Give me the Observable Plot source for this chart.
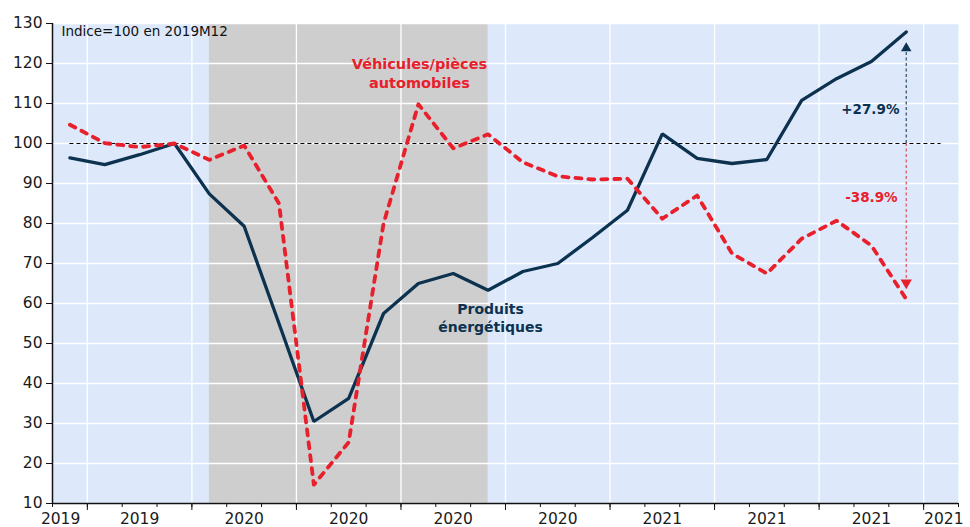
<!DOCTYPE html>
<html><head><meta charset="utf-8">
<script src="https://cdn.jsdelivr.net/npm/d3@7"></script>
<script src="https://cdn.jsdelivr.net/npm/@observablehq/plot@0.6"></script>
<style>body{margin:0;background:#fff}</style>
</head><body><div id="chart"></div>
<script>
// ---- data ----
const months = ["2019M9","2019M10","2019M11","2019M12","2020M1","2020M2","2020M3","2020M4","2020M5","2020M6","2020M7","2020M8","2020M9","2020M10","2020M11","2020M12","2021M1","2021M2","2021M3","2021M4","2021M5","2021M6","2021M7","2021M8","2021M9","2021M10"];
const energy   = [96.4, 94.7, 97.2, 100, 87.4, 79.3, 55.0, 30.5, 36.3, 57.5, 65.0, 67.5, 63.3, 68.0, 70.0, 76.5, 83.3, 102.4, 96.3, 95.0, 96.0, 110.8, 116.2, 120.5, 127.9];
const vehicles = [104.7, 100.1, 99.1, 100, 95.9, 99.5, 85.0, 14.7, 25.3, 80.0, 109.8, 98.8, 102.3, 95.3, 91.8, 91.0, 91.2, 81.2, 87.0, 72.5, 67.5, 76.2, 80.7, 74.5, 61.1];
const yTicks = [10,20,30,40,50,60,70,80,90,100,110,120,130];
const quarterStarts = ["2019M7","2019M10","2020M1","2020M4","2020M7","2020M10","2021M1","2021M4","2021M7","2021M10"];
const quarterLabels = ["2019","2019","2020","2020","2020","2020","2021","2021","2021","2021"];
const recession = [{start:"2020M1", end:"2020M9"}];
const baseValue = 100;
const baseNote = "Indice=100 en 2019M12";
const energyName = "Produits\nénergétiques";
const vehiclesName = "Véhicules/pièces\nautomobiles";
const energyChange = "+27.9%";
const vehiclesChange = "-38.9%";

// ---- helpers ----
const idx = s => { const [y, m] = s.split("M").map(Number); return (y - 2019) * 12 + (m - 9); };
const nM = months.length;
const rows = energy.map((v, i) => ({x: idx(months[i]) + 0.5, energy: v, vehicles: vehicles[i]}));
const qIdx = quarterStarts.map(idx);
const gridQ = qIdx.filter(q => q > 0 && q < nM);
const labelRows = quarterLabels.map((l, i) => ({label: l, x: (Math.max(qIdx[i], 0) + Math.min(qIdx[i] + 3, nM)) / 2}));
const lastX = rows[rows.length - 1].x;
const eLast = energy[energy.length - 1], vLast = vehicles[vehicles.length - 1];

const NAVY = "#0c3250", RED = "#e8202b";
const font = "DejaVu Sans";

const chart = Plot.plot({
  width: 970, height: 527,
  marginLeft: 52, marginRight: 12, marginTop: 23, marginBottom: 24,
  x: {domain: [0, nM], axis: null},
  y: {domain: [10, 130], axis: null},
  style: {fontFamily: font, fontSize: "15.5px", color: "#1a1a1a", background: "white"},
  marks: [
    Plot.frame({fill: "#dde9fb", stroke: null}),
    Plot.rect(recession, {x1: d => idx(d.start) + 0.5, x2: d => idx(d.end) + 0.5, y1: 10, y2: 130, fill: "#cecece"}),
    Plot.gridY(yTicks, {stroke: "white", strokeOpacity: 1, strokeWidth: 1.3}),
    Plot.gridX(gridQ, {stroke: "white", strokeOpacity: 1, strokeWidth: 1.3}),
    Plot.ruleY([baseValue], {x1: rows[0].x, x2: nM - 0.5, stroke: "#000", strokeWidth: 1.2, strokeDasharray: "4,3"}),
    // arrows
    Plot.ruleX([lastX], {y1: baseValue, y2: eLast - 4, stroke: "#2c4a66", strokeWidth: 1.2, strokeDasharray: "3,2.5"}),
    Plot.ruleX([lastX], {y1: baseValue, y2: vLast + 4, stroke: "#e0505c", strokeWidth: 1.2, strokeDasharray: "3,2.5"}),
    Plot.dot([lastX], {x: d => d, y: eLast - 4.1, symbol: "triangle", r: 3.9, fill: NAVY, stroke: null}),
    Plot.dot([lastX], {x: d => d, y: vLast + 4.1, symbol: "triangle", r: 4.2, fill: RED, stroke: null, rotate: 180}),
    // series
    Plot.line(rows, {x: "x", y: "energy", stroke: NAVY, strokeWidth: 3.3, strokeLinejoin: "miter"}),
    Plot.line(rows, {x: "x", y: "vehicles", stroke: RED, strokeWidth: 3.8, strokeDasharray: "6,7", strokeLinecap: "round"}),
    // axis lines
    Plot.ruleY([10], {stroke: "#111", strokeWidth: 1.5}),
    Plot.ruleX([0], {stroke: "#111", strokeWidth: 1.5}),
    // y axis
    Plot.axisY({ticks: yTicks, tickSize: 6, tickPadding: 4, fontSize: 15.5, stroke: "#111", label: null}),
    // x axis minor and major ticks
    Plot.axisX({ticks: d3.range(0, nM + 1), tickSize: 4, tickFormat: () => "", stroke: "#111", label: null}),
    Plot.axisX({ticks: gridQ, tickSize: 7, tickFormat: () => "", stroke: "#111", label: null}),
    // x labels
    Plot.text(labelRows.slice(1, -1), {x: "x", y: 10, text: "label", dy: 16, fontSize: 15.5, fill: "#1a1a1a"}),
    Plot.text(labelRows.slice(0, 1), {x: 1, y: 10, text: "label", dy: 16, dx: -7, textAnchor: "end", fontSize: 15.5, fill: "#1a1a1a"}),
    Plot.text(labelRows.slice(-1), {x: nM, y: 10, text: "label", dy: 16, dx: 5, textAnchor: "end", fontSize: 15.5, fill: "#1a1a1a"}),
    // annotations
    Plot.text([baseNote], {frameAnchor: "top-left", dx: 9, dy: 3, textAnchor: "start", lineAnchor: "top", fontSize: 13.5, fill: "#111"}),
    Plot.text([vehiclesName], {x: 10.53, y: 117.7, fontSize: 14.5, fontWeight: "bold", fill: RED, lineHeight: 1.25}),
    Plot.text([energyName], {x: 12.57, y: 56.6, fontSize: 14, fontWeight: "bold", fill: NAVY, lineHeight: 1.3}),
    Plot.text([energyChange], {x: 23.47, y: 108.5, fontSize: 13.5, fontWeight: "bold", fill: NAVY}),
    Plot.text([vehiclesChange], {x: 23.5, y: 86.5, fontSize: 13.5, fontWeight: "bold", fill: RED})
  ]
});
document.getElementById("chart").appendChild(chart);
</script>
</body></html>
